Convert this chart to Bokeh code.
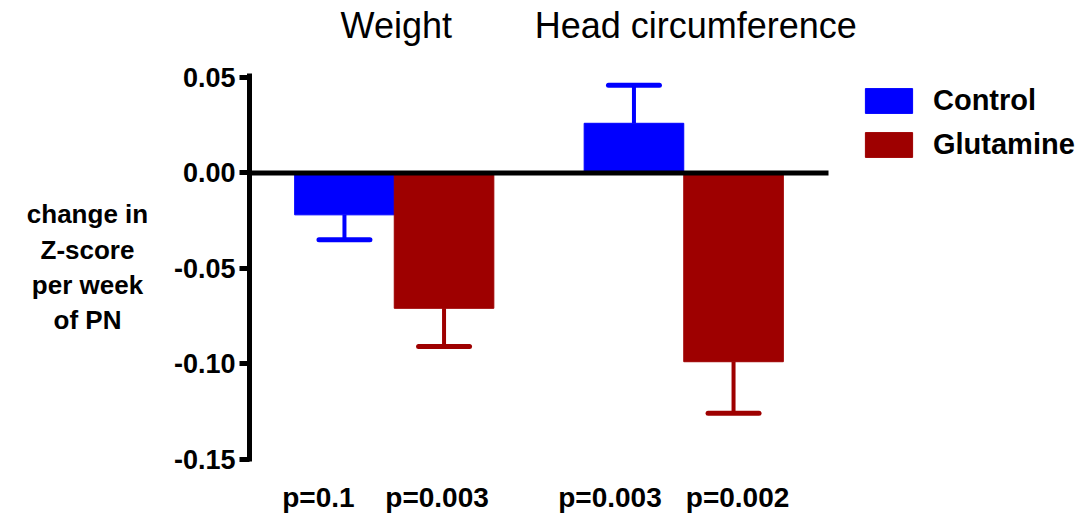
from bokeh.plotting import figure
from bokeh.layouts import row
from bokeh.models import (Range1d, LinearAxis, FixedTicker, CustomJSTickFormatter,
                          PrintfTickFormatter, Legend, LegendItem)
from bokeh.core.properties import value
from bokeh.embed import file_html
from bokeh.resources import INLINE

# ---- data ----
groups = ["Weight", "Head circumference"]
series = ["Control", "Glutamine"]
control_mean = [-0.022, 0.026]
control_sem = [0.013, 0.020]
glutamine_mean = [-0.071, -0.099]
glutamine_sem = [0.020, 0.027]
p_labels = ["p=0.1", "p=0.003", "p=0.003", "p=0.002"]
y_ticks = [0.05, 0.0, -0.05, -0.10, -0.15]
y_label_lines = ["change in", "Z-score", "per week", "of PN"]

# ---- style ----
FONT = "Liberation Sans"
colors = ["#0000ff", "#9e0000"]
bar_w = 0.344
dodge = 0.172
cap_half = 0.088
PX_PER_UNIT = 289.5                   # horizontal scale of the frame
p_label_nudge_px = [-26, -7, -24, 4]  # small horizontal nudges of the p labels
group_label_nudge_px = [2, 12]        # small horizontal nudges of the group titles
YLABEL_CENTER = -0.0495               # vertical centre of the y-axis title block

W, H = 1092, 519
LEFT_W = 160          # width of the strip holding the y label
frame_left = 249
top_b, bot_b = 73, 58
y_range = Range1d(-0.1513, 0.0521)

# ---- left strip with the y-axis title ----
p0 = figure(width=LEFT_W, height=H, output_backend="svg", toolbar_location=None,
            x_range=Range1d(0, LEFT_W), y_range=y_range,
            x_axis_location=None, y_axis_location=None,
            min_border_left=0, min_border_right=0, min_border_top=top_b,
            min_border_bottom=bot_b)
p0.outline_line_color = None
p0.grid.visible = False
p0.text(x=[87], y=[YLABEL_CENTER],
        text=["\n".join(y_label_lines)],
        text_align="center", text_baseline="middle",
        text_font=value(FONT), text_font_style="bold", text_font_size="26px",
        text_line_height=1.18, text_color="black")

# ---- main plot ----
main_w = W - LEFT_W
x_end = (W - frame_left) / PX_PER_UNIT

p = figure(width=main_w, height=H, output_backend="svg", toolbar_location=None,
           x_range=Range1d(0, x_end), y_range=y_range,
           x_axis_location=None,
           min_border_left=frame_left - LEFT_W, min_border_right=0,
           min_border_top=top_b, min_border_bottom=bot_b)
p.outline_line_color = None
p.grid.visible = False
p.background_fill_color = "white"
p.border_fill_color = "white"

group_x = [i + 0.5 for i in range(len(groups))]
ctrl_x = [g - dodge for g in group_x]
glut_x = [g + dodge for g in group_x]

renderers = []
for xs, means, sems, col in [(ctrl_x, control_mean, control_sem, colors[0]),
                              (glut_x, glutamine_mean, glutamine_sem, colors[1])]:
    ends = [m + (s if m >= 0 else -s) for m, s in zip(means, sems)]
    p.segment(x0=xs, y0=means, x1=xs, y1=ends, line_color=col, line_width=4)
    p.segment(x0=[x - cap_half for x in xs], y0=ends,
              x1=[x + cap_half for x in xs], y1=ends,
              line_color=col, line_width=5, line_cap="round")
    r = p.vbar(x=xs, top=means, bottom=0, width=bar_w,
               fill_color=col, line_color=col, line_width=1)
    renderers.append(r)

# zero baseline across the data area
p.segment(x0=[0], y0=[0], x1=[len(groups)], y1=[0], line_color="black", line_width=5)

# y axis
ya = p.yaxis[0]
ya.ticker = FixedTicker(ticks=y_ticks)
ya.formatter = PrintfTickFormatter(format="%.2f")
ya.axis_line_width = 5
ya.major_tick_line_width = 5
ya.major_tick_out = 10
ya.major_tick_in = 0
ya.minor_tick_line_color = None
ya.major_label_standoff = 4
ya.major_label_text_font = FONT
ya.major_label_text_font_style = "bold"
ya.major_label_text_font_size = "27px"
ya.major_label_text_color = "black"

# top axis: group names
title_pos = [g + n / PX_PER_UNIT for g, n in zip(group_x, group_label_nudge_px)]
top = LinearAxis(ticker=FixedTicker(ticks=title_pos),
                 formatter=CustomJSTickFormatter(args=dict(labels=groups),
                                                 code="return labels[index]"))
top.axis_line_color = None
top.major_tick_line_color = None
top.minor_tick_line_color = None
top.major_label_standoff = 22
top.major_label_text_font = FONT
top.major_label_text_font_size = "36px"
top.major_label_text_color = "black"
p.add_layout(top, "above")

# bottom axis: p values under the bars
bar_centers = sorted(ctrl_x + glut_x)
label_pos = [c + n / PX_PER_UNIT for c, n in zip(bar_centers, p_label_nudge_px)]
bot = LinearAxis(ticker=FixedTicker(ticks=label_pos),
                 formatter=CustomJSTickFormatter(args=dict(labels=p_labels),
                                                 code="return labels[index]"))
bot.axis_line_color = None
bot.major_tick_line_color = None
bot.minor_tick_line_color = None
bot.major_label_standoff = 14
bot.major_label_text_font = FONT
bot.major_label_text_font_style = "bold"
bot.major_label_text_font_size = "28px"
bot.major_label_text_color = "black"
p.add_layout(bot, "below")

legend = Legend(items=[LegendItem(label=s, renderers=[r]) for s, r in zip(series, renderers)],
                location=(610, 300), orientation="vertical",
                glyph_width=59, glyph_height=31, label_standoff=15,
                label_text_font=FONT, label_text_font_style="bold",
                label_text_font_size="29px", label_text_color="black",
                padding=0, margin=0, spacing=11,
                border_line_color=None, background_fill_alpha=0)
p.add_layout(legend)

layout = row(p0, p, spacing=0)
open("out.html", "w").write(file_html(layout, INLINE))
